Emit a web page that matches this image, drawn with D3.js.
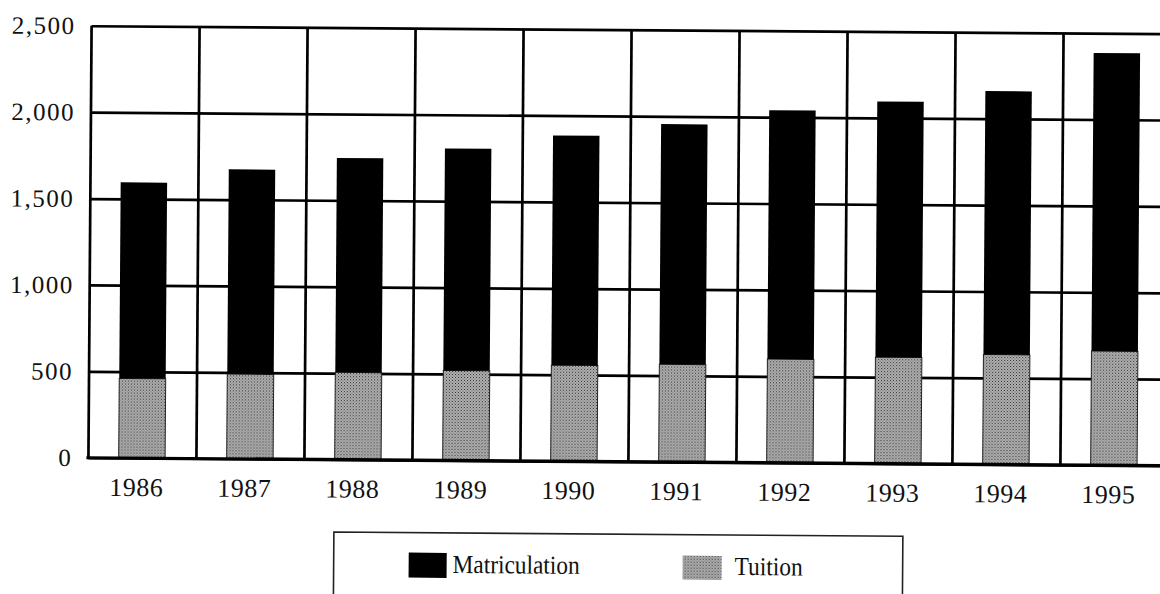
<!DOCTYPE html>
<html>
<head>
<meta charset="utf-8">
<script src="https://cdn.jsdelivr.net/npm/d3@7"></script>
<style>
  html, body { margin: 0; padding: 0; background: #fff; }
  svg { display: block; }
  text { font-family: "Liberation Serif", "Times New Roman", serif; fill: #111; }
</style>
</head>
<body>
<div id="chart"></div>
<script>
// ---- data ----
const years = ["1986","1987","1988","1989","1990","1991","1992","1993","1994","1995"];
const tuition = [460, 490, 505, 520, 555, 565, 600, 615, 635, 660];
const matriculation = [1135, 1185, 1240, 1285, 1330, 1390, 1440, 1480, 1525, 1725];
const yTicks = [0, 500, 1000, 1500, 2000, 2500];
const seriesNames = ["Matriculation", "Tuition"];

// ---- layout ----
const W = 1160, H = 594;
const plot = { left: 90, right: 1170, top: 29.5, bottom: 461.5 };

const svg = d3.select("#chart").append("svg")
  .attr("width", W).attr("height", H);

const defs = svg.append("defs");
const pat = defs.append("pattern").attr("id", "stip")
  .attr("width", 3).attr("height", 3).attr("patternUnits", "userSpaceOnUse");
pat.append("rect").attr("width", 3).attr("height", 3).attr("fill", "#b4b4b4");
pat.append("rect").attr("x", 0).attr("y", 0).attr("width", 1).attr("height", 1).attr("fill", "#2a2a2a");
pat.append("rect").attr("x", 1.5).attr("y", 1.5).attr("width", 1).attr("height", 1).attr("fill", "#4a4a4a");

// slight scan rotation
const g = svg.append("g").attr("transform", "rotate(0.42, 600, 245)");

const x = d3.scaleBand().domain(years).range([plot.left, plot.right]).padding(0);
const y = d3.scaleLinear().domain([0, 2500]).range([plot.bottom, plot.top]);
const bw = x.bandwidth();

// horizontal grid
const grid = g.append("g")
  .attr("transform", `translate(${plot.left},0)`)
  .call(d3.axisLeft(y).tickValues(yTicks).tickSize(-(plot.right - plot.left)).tickFormat(""));
grid.select(".domain").remove();
grid.selectAll(".tick line").attr("stroke", "#000").attr("stroke-width", 2.7);

// vertical grid lines at band boundaries
const bounds = years.map(d => x(d)).concat([plot.right]);
g.append("g").selectAll("line").data(bounds).join("line")
  .attr("x1", d => d).attr("x2", d => d)
  .attr("y1", y(2500)).attr("y2", y(0))
  .attr("stroke", "#000").attr("stroke-width", 2.7);

// stacked bars
const rows = years.map((yr, i) => ({ year: yr, Tuition: tuition[i], Matriculation: matriculation[i] }));
const stack = d3.stack().keys(["Tuition", "Matriculation"])(rows);
const fills = { Tuition: "url(#stip)", Matriculation: "#000" };

g.append("g").selectAll("g").data(stack).join("g")
  .attr("fill", d => fills[d.key])
  .attr("stroke", d => d.key === "Tuition" ? "#222" : "none")
  .attr("stroke-width", 1)
  .selectAll("rect").data(d => d).join("rect")
    .attr("x", d => x(d.data.year) + bw * 0.28)
    .attr("width", bw * 0.43)
    .attr("y", d => y(d[1]))
    .attr("height", d => y(d[0]) - y(d[1]));

// bottom axis line (thicker)
g.append("line")
  .attr("x1", plot.left - 2).attr("x2", plot.right)
  .attr("y1", y(0)).attr("y2", y(0))
  .attr("stroke", "#000").attr("stroke-width", 3.2);

// y tick labels
const yAxis = g.append("g")
  .attr("transform", `translate(${plot.left},0)`)
  .call(d3.axisLeft(y).tickValues(yTicks).tickSize(0).tickPadding(16).tickFormat(d3.format(",")));
yAxis.select(".domain").remove();
yAxis.attr("font-family", null);
yAxis.selectAll("text")
  .style("font-family", '"Liberation Serif", "Times New Roman", serif')
  .style("font-size", "25px")
  .style("letter-spacing", "1.5px")
  .attr("fill", "#111");

// x labels
g.append("g").selectAll("text").data(years).join("text")
  .attr("x", d => x(d) + bw * 0.445)
  .attr("y", y(0) + 38)
  .attr("text-anchor", "middle")
  .style("font-family", '"Liberation Serif", "Times New Roman", serif')
  .style("font-size", "26px")
  .style("letter-spacing", "0.5px")
  .text(d => d);

// legend
const lg = g.append("g");
lg.append("path")
  .attr("d", "M336,600 L336,534 L905,534 L905,600")
  .attr("fill", "none").attr("stroke", "#222").attr("stroke-width", 1.6);

const legendSpec = [
  { name: seriesNames[0], fill: "#000", sx: 411, sy: 554, sw: 38, sh: 25, tx: 455, tl: 127 },
  { name: seriesNames[1], fill: "url(#stip)", sx: 685, sy: 555, sw: 39, sh: 24, tx: 737, tl: 68 }
];
legendSpec.forEach(s => {
  lg.append("rect").attr("x", s.sx).attr("y", s.sy).attr("width", s.sw).attr("height", s.sh)
    .attr("fill", s.fill);
  lg.append("text").attr("x", s.tx).attr("y", 574)
    .style("font-family", '"Liberation Serif", "Times New Roman", serif')
    .style("font-size", "26px")
    .attr("textLength", s.tl).attr("lengthAdjust", "spacingAndGlyphs")
    .text(s.name);
});
</script>
</body>
</html>
